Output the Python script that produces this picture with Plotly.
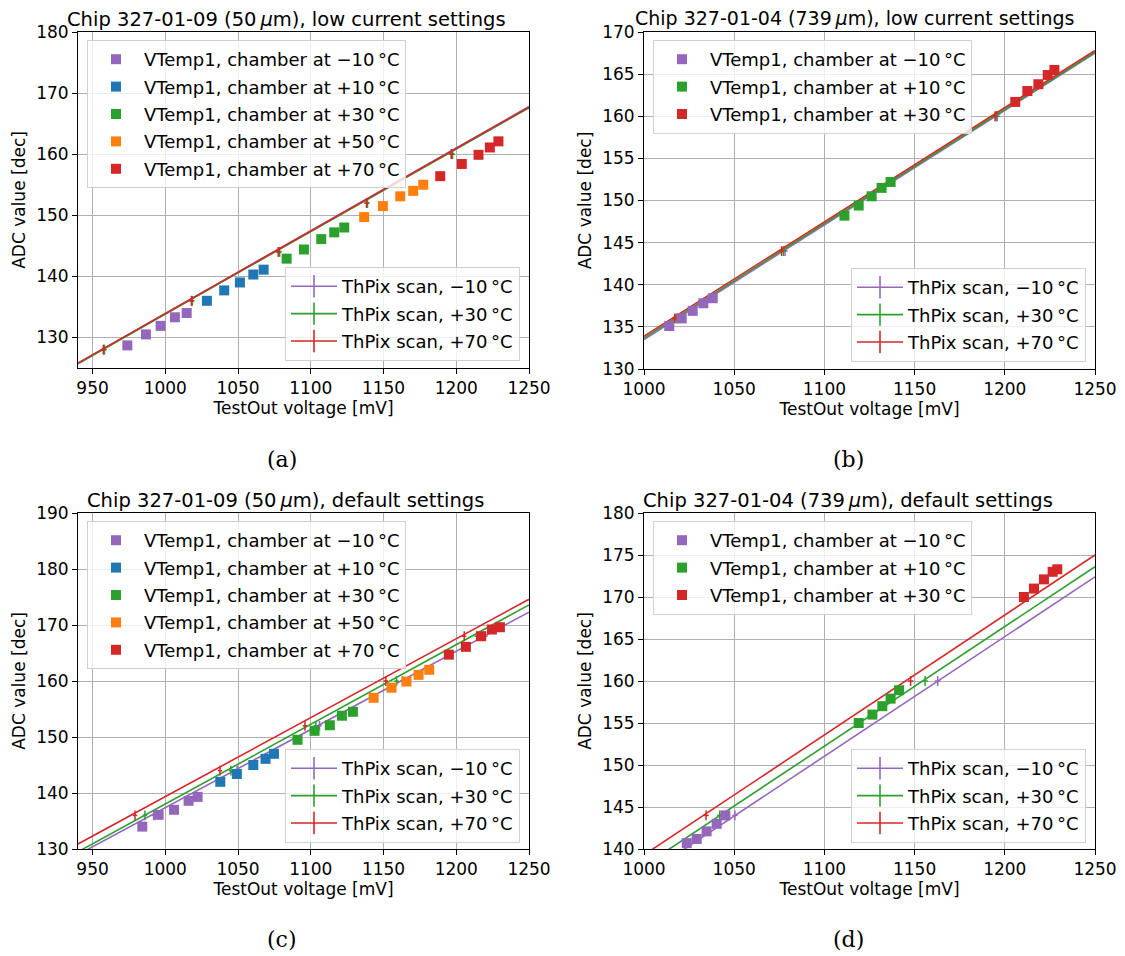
import plotly.graph_objects as go

# ---------------- data ----------------
# colours (matplotlib tab10)
C_PURPLE = "#9467bd"
C_BLUE = "#1f77b4"
C_GREEN = "#2ca02c"
C_ORANGE = "#ff7f0e"
C_RED = "#d62728"

# Panel (a): chip 327-01-09, low current
a_m10_x = [973.9, 986.7, 996.8, 1006.6, 1014.7]
a_m10_y = [128.7, 130.5, 131.9, 133.3, 134.0]
a_p10_x = [1028.6, 1040.5, 1051.3, 1060.5, 1067.6]
a_p10_y = [136.0, 137.7, 139.0, 140.3, 141.1]
a_p30_x = [1083.4, 1095.3, 1107.2, 1116.1, 1123.0]
a_p30_y = [142.9, 144.4, 146.1, 147.2, 148.0]
a_p50_x = [1136.7, 1149.6, 1161.5, 1170.4, 1177.3]
a_p50_y = [149.7, 151.5, 153.1, 154.0, 155.0]
a_p70_x = [1189.0, 1203.8, 1215.3, 1223.1, 1229.0]
a_p70_y = [156.4, 158.4, 159.9, 161.1, 162.1]
a_fit_x = [940, 1250]
a_fit_m10 = [125.8, 167.8]
a_fit_p30 = [125.7, 167.6]
a_fit_p70 = [125.8, 167.7]
a_scan_y = [128, 136, 144, 152, 160]
a_scan_m10_x = [958.0, 1018.0, 1077.6, 1138.5, 1196.5]
a_scan_p30_x = [958.2, 1018.6, 1078.6, 1139.0, 1197.5]
a_scan_p70_x = [957.4, 1018.1, 1077.9, 1138.3, 1196.7]

# Panel (b): chip 327-01-04, low current
b_m10_x = [1014.0, 1020.9, 1027.0, 1032.9, 1038.1]
b_m10_y = [135.1, 136.0, 136.9, 137.8, 138.4]
b_p10_x = [1111.1, 1119.0, 1126.2, 1131.7, 1136.7]
b_p10_y = [148.2, 149.4, 150.5, 151.5, 152.2]
b_p30_x = [1205.8, 1212.5, 1218.6, 1223.8, 1227.5]
b_p30_y = [161.7, 163.0, 163.8, 164.9, 165.5]
b_fit_x = [1000, 1250]
b_fit_m10 = [133.5, 167.5]
b_fit_p30 = [133.7, 167.6]
b_fit_p70 = [133.9, 167.8]
b_scan_y = [136, 144, 160]
b_scan_m10_x = [1018.5, 1078.2, 1195.8]
b_scan_p30_x = [1017.8, 1077.3, 1195.2]
b_scan_p70_x = [1017.0, 1076.3, 1194.6]

# Panel (c): chip 327-01-09, default
c_m10_x = [984.2, 995.4, 1006.0, 1016.0, 1022.2]
c_m10_y = [134.0, 136.1, 137.0, 138.6, 139.3]
c_p10_x = [1037.8, 1049.2, 1060.5, 1068.9, 1074.7]
c_p10_y = [142.0, 143.4, 145.0, 146.1, 147.0]
c_p30_x = [1090.9, 1102.6, 1113.1, 1121.4, 1129.0]
c_p30_y = [149.5, 151.1, 152.1, 153.8, 154.5]
c_p50_x = [1143.2, 1155.5, 1165.8, 1174.1, 1181.4]
c_p50_y = [157.0, 158.8, 159.9, 161.1, 162.0]
c_p70_x = [1194.9, 1206.6, 1217.1, 1224.5, 1230.0]
c_p70_y = [164.7, 166.1, 168.0, 169.2, 169.6]
c_fit_x = [940, 1250]
c_fit_m10 = [129.0, 172.3]
c_fit_p30 = [129.5, 173.6]
c_fit_p70 = [130.9, 174.6]
c_scan_y = [136, 144, 152, 160, 168]
c_scan_m10_x = [992.0, 1049.4, 1106.0, 1163.0, 1220.0]
c_scan_p30_x = [986.0, 1045.1, 1103.5, 1159.0, 1214.0]
c_scan_p70_x = [979.2, 1037.6, 1096.0, 1151.6, 1205.5]

# Panel (d): chip 327-01-04, default
d_m10_x = [1023.7, 1029.2, 1034.7, 1040.3, 1045.1]
d_m10_y = [140.7, 141.2, 142.1, 143.0, 144.0]
d_p10_x = [1119.0, 1126.6, 1132.1, 1136.7, 1141.4]
d_p10_y = [155.0, 156.0, 157.0, 157.9, 158.9]
d_p30_x = [1210.6, 1216.2, 1221.7, 1226.5, 1229.1]
d_p30_y = [170.0, 171.0, 172.1, 173.0, 173.3]
d_fit_x = [1000, 1250]
d_fit_m10 = [136.8, 172.4]
d_fit_p30 = [138.0, 173.6]
d_fit_p70 = [139.3, 175.0]
d_scan_y = [144, 160]
d_scan_m10_x = [1050.4, 1162.8]
d_scan_p30_x = [1042.0, 1155.8]
d_scan_p70_x = [1034.4, 1147.8]

titles = [
    "Chip 327-01-09 (50\u2009<i>\u03bc</i>m), low current settings",
    "Chip 327-01-04 (739\u2009<i>\u03bc</i>m), low current settings",
    "Chip 327-01-09 (50\u2009<i>\u03bc</i>m), default settings",
    "Chip 327-01-04 (739\u2009<i>\u03bc</i>m), default settings",
]
sublabels = ["(a)", "(b)", "(c)", "(d)"]
x_label = "TestOut voltage [mV]"
y_label = "ADC value [dec]"

def vlabel(t):
    return "VTemp1, chamber at " + t + "\u2009\u00b0C"

def tlabel(t):
    return "ThPix scan, " + t + "\u2009\u00b0C"

M10, P10, P30, P50, P70 = "\u221210", "+10", "+30", "+50", "+70"

panels = [
    dict(
        vt=[(a_m10_x, a_m10_y, C_PURPLE, M10), (a_p10_x, a_p10_y, C_BLUE, P10),
            (a_p30_x, a_p30_y, C_GREEN, P30), (a_p50_x, a_p50_y, C_ORANGE, P50),
            (a_p70_x, a_p70_y, C_RED, P70)],
        fit_x=a_fit_x,
        th=[(a_fit_m10, a_scan_m10_x, a_scan_y, C_PURPLE, M10),
            (a_fit_p30, a_scan_p30_x, a_scan_y, C_GREEN, P30),
            (a_fit_p70, a_scan_p70_x, a_scan_y, C_RED, P70)],
        xr=[940, 1250], yr=[125, 180], xt=list(range(950, 1251, 50)), yt=list(range(130, 181, 10)),
    ),
    dict(
        vt=[(b_m10_x, b_m10_y, C_PURPLE, M10), (b_p10_x, b_p10_y, C_GREEN, P10),
            (b_p30_x, b_p30_y, C_RED, P30)],
        fit_x=b_fit_x,
        th=[(b_fit_m10, b_scan_m10_x, b_scan_y, C_PURPLE, M10),
            (b_fit_p30, b_scan_p30_x, b_scan_y, C_GREEN, P30),
            (b_fit_p70, b_scan_p70_x, b_scan_y, C_RED, P70)],
        xr=[1000, 1250], yr=[130, 170], xt=list(range(1000, 1251, 50)), yt=list(range(130, 171, 5)),
    ),
    dict(
        vt=[(c_m10_x, c_m10_y, C_PURPLE, M10), (c_p10_x, c_p10_y, C_BLUE, P10),
            (c_p30_x, c_p30_y, C_GREEN, P30), (c_p50_x, c_p50_y, C_ORANGE, P50),
            (c_p70_x, c_p70_y, C_RED, P70)],
        fit_x=c_fit_x,
        th=[(c_fit_m10, c_scan_m10_x, c_scan_y, C_PURPLE, M10),
            (c_fit_p30, c_scan_p30_x, c_scan_y, C_GREEN, P30),
            (c_fit_p70, c_scan_p70_x, c_scan_y, C_RED, P70)],
        xr=[940, 1250], yr=[130, 190], xt=list(range(950, 1251, 50)), yt=list(range(130, 191, 10)),
    ),
    dict(
        vt=[(d_m10_x, d_m10_y, C_PURPLE, M10), (d_p10_x, d_p10_y, C_GREEN, P10),
            (d_p30_x, d_p30_y, C_RED, P30)],
        fit_x=d_fit_x,
        th=[(d_fit_m10, d_scan_m10_x, d_scan_y, C_PURPLE, M10),
            (d_fit_p30, d_scan_p30_x, d_scan_y, C_GREEN, P30),
            (d_fit_p70, d_scan_p70_x, d_scan_y, C_RED, P70)],
        xr=[1000, 1250], yr=[140, 180], xt=list(range(1000, 1251, 50)), yt=list(range(140, 181, 5)),
    ),
]

# ---------------- layout geometry (screen pixels) ----------------
OFF = 8                      # default page body margin
W, H = 1125 - OFF, 956 - OFF  # figure fits inside the window
FONT = "DejaVu Sans"
# plot areas: (left, right, top, bottom)
areas = [(78, 529, 32, 368), (644, 1095, 32, 369), (78, 529, 513, 849), (644, 1095, 513, 849)]
title_pos = [(286, 19), (854, 18), (285, 500), (848, 500)]
title_size = [19.5, 19, 19.5, 19.5]
sub_pos = [(282, 460), (848, 460), (282, 939), (848, 939)]
leg1_pos = [(87, 40), (653, 40), (87, 521), (653, 521)]
leg2_pos = [(520, 361), (1086, 362), (520, 843), (1086, 843)]

def px(x):
    return (x - OFF) / W

def py(y):
    return 1 - (y - OFF) / H

fig = go.Figure()
layout = dict(
    width=W, height=H, margin=dict(l=0, r=0, t=0, b=0, pad=0, autoexpand=False),
    paper_bgcolor="white", plot_bgcolor="white",
    font=dict(family=FONT, size=17, color="black"),
    annotations=[],
)

gcount = 0
for i, p in enumerate(panels):
    n = i + 1
    xa = "x" if n == 1 else f"x{n}"
    ya = "y" if n == 1 else f"y{n}"
    l1 = "legend" if n == 1 else f"legend{2 * n - 1}"
    l2 = f"legend{2 * n}"

    # ThPix fit lines and scan points
    for fit_y, sx, sy, col, t in p["th"]:
        fig.add_trace(go.Scatter(
            x=p["fit_x"], y=fit_y, mode="lines", line=dict(color=col, width=1.6),
            xaxis=xa, yaxis=ya, showlegend=False, hoverinfo="skip"))
        fig.add_trace(go.Scatter(
            x=sx, y=sy, mode="markers", xaxis=xa, yaxis=ya, showlegend=False,
            marker=dict(symbol="line-ns", size=7, line=dict(color=col, width=1.5)),
            error_x=dict(type="constant", value=1.5, color=col, thickness=1.5, width=0)))
    # VTemp data
    for vx, vy, col, t in p["vt"]:
        gcount += 1
        fig.add_trace(go.Scatter(
            x=vx, y=vy, mode="markers", xaxis=xa, yaxis=ya, name=vlabel(t),
            legend=l1, legendgroup=f"g{gcount}",
            marker=dict(symbol="square", size=10, color=col),
            error_y=dict(type="constant", value=0.45, color=col, thickness=1.5, width=0),
            error_x=dict(type="constant", value=1.5, color=col, thickness=1.5, width=0)))
    # legend entries for ThPix
    for fit_y, sx, sy, col, t in p["th"]:
        gcount += 1
        fig.add_trace(go.Scatter(
            x=[None], y=[None], mode="lines+markers", xaxis=xa, yaxis=ya, name=tlabel(t),
            legend=l2, legendgroup=f"g{gcount}",
            line=dict(color=col, width=1.6),
            marker=dict(symbol="line-ns", size=16, line=dict(color=col, width=1.6))))

    L, R, T, B = areas[i]
    axis_common = dict(
        showline=True, linecolor="black", linewidth=1, mirror=True,
        ticks="outside", ticklen=5, tickcolor="black", tickwidth=1,
        showgrid=True, gridcolor="#b0b0b0", gridwidth=0.8, zeroline=False,
        tickfont=dict(family=FONT, size=17, color="black"), automargin=False,
    )
    layout["xaxis" if n == 1 else f"xaxis{n}"] = dict(
        axis_common, domain=[px(L), px(R)], range=p["xr"], tickvals=p["xt"],
        anchor=ya, title=dict(text=x_label, font=dict(family=FONT, size=17), standoff=2))
    layout["yaxis" if n == 1 else f"yaxis{n}"] = dict(
        axis_common, domain=[py(B), py(T)], range=p["yr"], tickvals=p["yt"],
        anchor=xa, title=dict(text=y_label, font=dict(family=FONT, size=17), standoff=6))

    legend_common = dict(
        bgcolor="rgba(255,255,255,0.8)", bordercolor="#d0d0d0", borderwidth=1,
        font=dict(family=FONT, size=18, color="black"), tracegroupgap=1,
        itemwidth=46, itemclick=False, itemdoubleclick=False,
    )
    lx, ly = leg1_pos[i]
    layout[l1] = dict(legend_common, x=px(lx), y=py(ly), xanchor="left", yanchor="top")
    rx, ry = leg2_pos[i]
    layout[l2] = dict(legend_common, x=px(rx), y=py(ry), xanchor="right", yanchor="bottom")

    tx, ty = title_pos[i]
    layout["annotations"].append(dict(
        text=titles[i], x=px(tx), y=py(ty), xref="paper", yref="paper",
        xanchor="center", yanchor="middle", showarrow=False,
        font=dict(family=FONT, size=title_size[i], color="black")))
    sx_, sy_ = sub_pos[i]
    layout["annotations"].append(dict(
        text=sublabels[i], x=px(sx_), y=py(sy_), xref="paper", yref="paper",
        xanchor="center", yanchor="middle", showarrow=False,
        font=dict(family="DejaVu Serif", size=22, color="black")))

fig.update_layout(**layout)
fig.write_html("out.html")
